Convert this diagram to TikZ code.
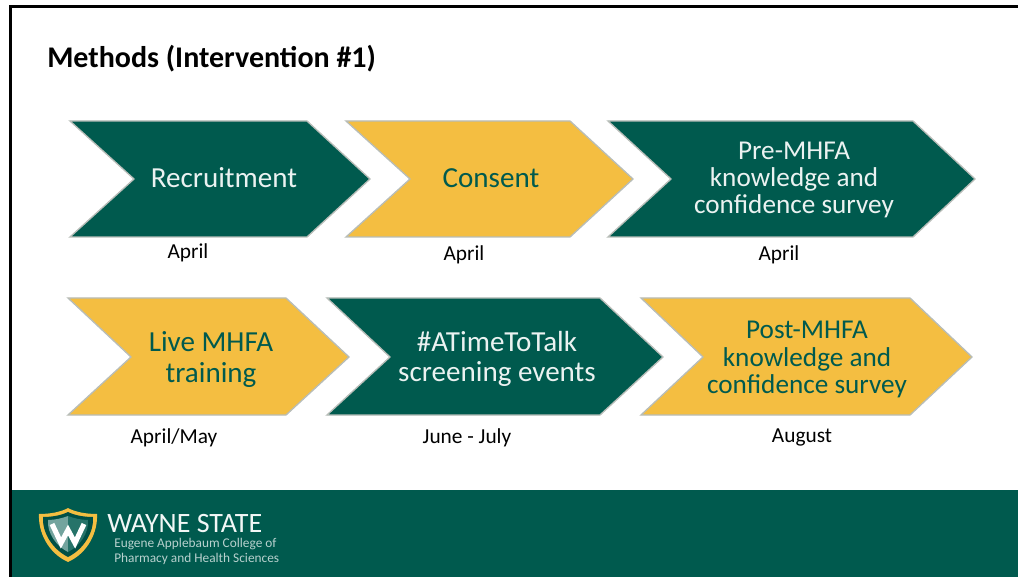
\documentclass[tikz,border=0pt]{standalone}
\usepackage{fontspec}
\setmainfont{Carlito}
\definecolor{wsgreen}{HTML}{005A4E}
\definecolor{wsgold}{HTML}{F4BE41}
\definecolor{wsedge}{HTML}{B8BDB8}
\tikzset{
 px/.style={x=0.75pt,y=-0.75pt},
 chevgreen/.style={fill=wsgreen,draw=wsedge,line width=1pt,line join=miter},
 chevgold/.style={fill=wsgold,draw=wsedge,line width=1pt,line join=miter},
 bigtext/.style={font=\fontsize{21.8pt}{22.8pt}\selectfont,align=center,inner sep=0pt},
 smalltext/.style={font=\fontsize{20.4pt}{20.6pt}\selectfont,align=center,inner sep=0pt},
 onGreen/.style={text=white!92!wsgreen},
 onGold/.style={text=wsgreen},
 datelabel/.style={text=black,font=\fontsize{16pt}{18pt}\selectfont,inner sep=0pt},
}
\begin{document}
\begin{tikzpicture}[px]
\useasboundingbox (0,0) rectangle (1018,577);
\fill[white] (0,0) rectangle (1018,577);
% slide border
\fill[black] (9,5.2) rectangle (1018,7.8);
\fill[black] (9,5.2) rectangle (12,577);
% footer
\fill[wsgreen] (12,490) rectangle (1018,577);
% title
\node[anchor=west,inner sep=0pt,font=\bfseries\fontsize{22.5pt}{26pt}\selectfont] (title) at (47,58.5) {Methods (Intervention \#1)};
% row one
\draw[chevgreen] (70,121) -- (307,121) -- (370,179) -- (307,237) -- (70,237) -- (134,179) -- cycle;
\node[onGreen,bigtext] (recruit) at (224,178) {Recruitment};
\draw[chevgold] (346,121) -- (570,121) -- (633,179) -- (570,237) -- (346,237) -- (410,179) -- cycle;
\node[onGold,bigtext] (consent) at (491,178) {Consent};
\draw[chevgreen] (608,121) -- (913,121) -- (975,179) -- (913,237) -- (608,237) -- (671,179) -- cycle;
\node[onGreen,smalltext] (pre) at (794,180) {Pre-MHFA\\knowledge and\\confidence survey};
% row two
\draw[chevgold] (68,298) -- (286,298) -- (349,357) -- (286,415) -- (68,415) -- (131,357) -- cycle;
\node[onGold,bigtext] (live) at (211,359.5) {Live MHFA\\training};
\draw[chevgreen] (327,298) -- (600,298) -- (663,357) -- (600,415) -- (327,415) -- (390,357) -- cycle;
\node[onGreen,bigtext] (talk) at (497,359) {\#ATimeToTalk\\screening events};
\draw[chevgold] (641,298) -- (910,298) -- (972,357) -- (910,415) -- (641,415) -- (703,357) -- cycle;
\node[onGold,smalltext] (post) at (807,359.5) {Post-MHFA\\knowledge and\\confidence survey};
% dates
\node[datelabel] (d1) at (188,252.5) {April};
\node[datelabel] (d2) at (464,254.5) {April};
\node[datelabel] (d3) at (779,254.5) {April};
\node[datelabel] (d4) at (174,437.5) {April/May};
\node[datelabel] (d5) at (467,437.5) {June - July};
\node[datelabel] (d6) at (802,437.5) {August};
% logo
\fill[wsgold] (39,514) .. controls (50,514) and (61,512) .. (68,508) .. controls (75,512) and (86,514) .. (97,514) .. controls (98,532) and (88,553) .. (68,562) .. controls (48,553) and (38,532) .. (39,514) -- cycle;
\fill[wsgreen!88!black] (43,517) .. controls (53,517) and (62,515) .. (68,512) .. controls (74,515) and (83,517) .. (93,517) .. controls (94,532) and (84,549) .. (68,557) .. controls (52,549) and (42,532) .. (43,517) -- cycle;
\fill[wsgreen!55!white] (48,520) .. controls (55,520) and (63,518) .. (68,516) -- (68,552) .. controls (56,546) and (47,533) .. (48,520) -- cycle;
\fill[wsgreen!85!white] (68,516) .. controls (73,518) and (81,520) .. (88,520) .. controls (89,533) and (80,546) .. (68,552) -- cycle;
\draw[white,line width=3.8pt,line join=miter] (52,524) -- (61,543) -- (68,530) -- (75,543) -- (84,524);
\node[anchor=west,text=white!95!wsgreen,inner sep=0pt,font=\fontsize{21pt}{22pt}\selectfont] (wayne) at (107,523.5) {WAYNE STATE};
\node[anchor=west,text=white!72!wsgreen,inner sep=0pt,align=left,font=\fontsize{10pt}{10.7pt}\selectfont] (college) at (114,551.5) {Eugene Applebaum College of\\Pharmacy and Health Sciences};
\end{tikzpicture}
\end{document}
